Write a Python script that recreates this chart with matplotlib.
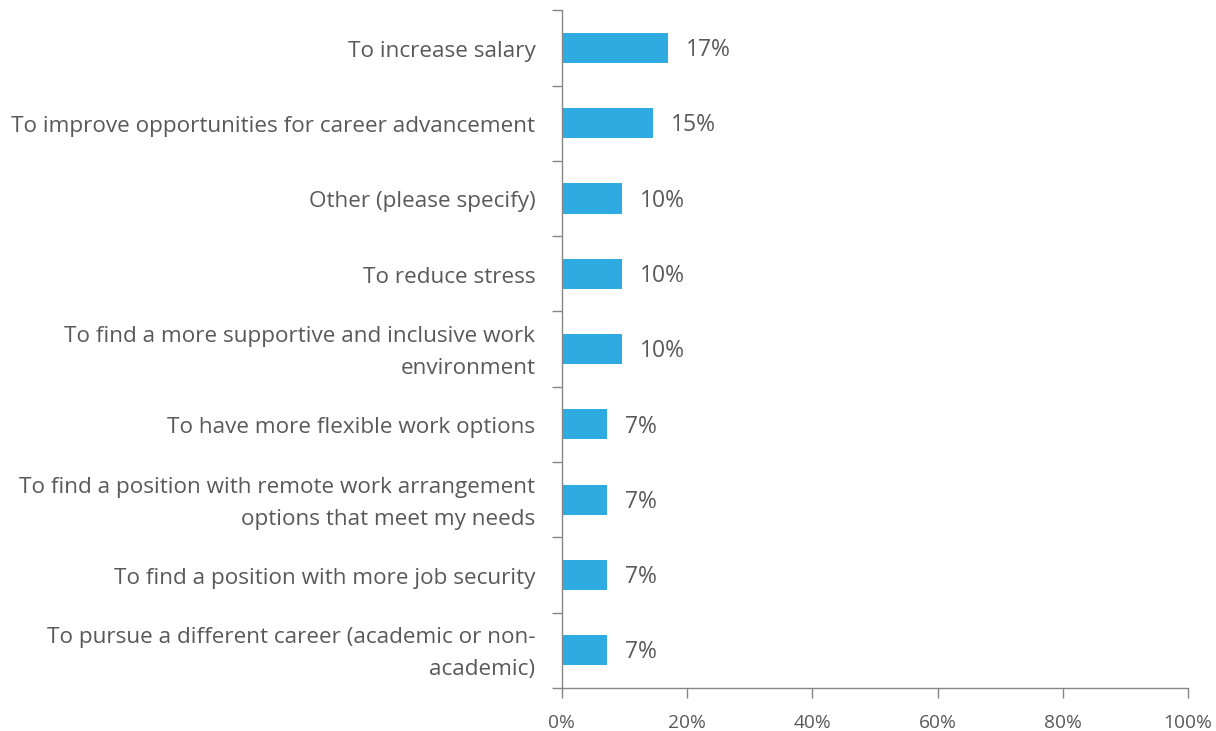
import matplotlib
matplotlib.use("Agg")
import matplotlib.pyplot as plt
import matplotlib.transforms as mtransforms
import numpy as np

plt.rcParams["font.family"] = ["Open Sans", "DejaVu Sans"]

# categories (top to bottom) and shares in percent
categories = [
    "To increase salary",
    "To improve opportunities for career advancement",
    "Other (please specify)",
    "To reduce stress",
    "To find a more supportive and inclusive work\nenvironment",
    "To have more flexible work options",
    "To find a position with remote work arrangement\noptions that meet my needs",
    "To find a position with more job security",
    "To pursue a different career (academic or non-\nacademic)",
]
values = [16.9, 14.6, 9.6, 9.6, 9.6, 7.2, 7.2, 7.2, 7.2]
xticks = [0, 20, 40, 60, 80, 100]

bar_color = "#2EACE2"
text_color = "#595959"
axis_color = "#868686"

fig = plt.figure(figsize=(12.16, 7.31), dpi=100)
ax = fig.add_axes([0.462, 0.059, 0.515, 0.927])

y = np.arange(len(categories))
ax.barh(y, values, height=0.4, color=bar_color)

for yi, v in zip(y, values):
    ax.text(v + 2.9, yi + 0.03, f"{v:.0f}%", va="center", ha="left",
            fontsize=16.5, color=text_color)

ax.set_xlim(0, 100)
ax.set_ylim(len(categories) - 0.5, -0.5)

ax.set_xticks(xticks)
ax.set_xticklabels([f"{t}%" for t in xticks])
ax.set_yticks(y)
ax.set_yticklabels(categories, linespacing=1.7, multialignment="right",
                   va="center")
ax.set_yticks(np.arange(len(categories) + 1) - 0.5, minor=True)

ax.tick_params(axis="y", which="major", length=0, pad=19,
               labelsize=16.2, labelcolor=text_color)
ax.tick_params(axis="y", which="minor", length=7, color=axis_color, width=1)
ax.tick_params(axis="x", which="major", length=7, color=axis_color, width=1,
               labelsize=13.8, labelcolor=text_color, pad=12)

# nudge category labels down a little
shift = mtransforms.ScaledTranslation(0, -3.5 / 100, fig.dpi_scale_trans)
for lbl in ax.get_yticklabels():
    lbl.set_transform(lbl.get_transform() + shift)

for side in ["top", "right"]:
    ax.spines[side].set_visible(False)
for side in ["left", "bottom"]:
    ax.spines[side].set_color(axis_color)
    ax.spines[side].set_linewidth(1)

fig.savefig("out.png", dpi=100)
